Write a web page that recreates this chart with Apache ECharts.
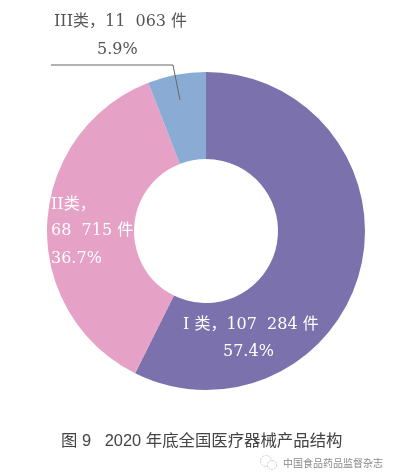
<!DOCTYPE html>
<html>
<head>
<meta charset="utf-8">
<style>html,body{margin:0;padding:0;background:#fff}#c{width:395px;height:472px}</style>
<script src="https://cdn.jsdelivr.net/npm/echarts@6/dist/echarts.min.js"></script>
</head>
<body>
<div id="c"></div>
<script>
const categories = ['I类', 'II类', 'III类'];
const values = [107284, 68715, 11063];
const colors = ['#7a71ad', '#e6a1c6', '#89abd4'];
const labelLines = [
  { text: 'I 类，107  284 件', x: 183, y: 325, fill: '#fff', align: 'left' },
  { text: '57.4%', x: 223, y: 352, fill: '#fff', align: 'left' },
  { text: 'II类，', x: 51, y: 205, fill: '#fff', align: 'left' },
  { text: '68  715 件', x: 51, y: 231, fill: '#fff', align: 'left' },
  { text: '36.7%', x: 51, y: 259, fill: '#fff', align: 'left' },
  { text: 'III类，11  063 件', x: 54, y: 22, fill: '#555', align: 'left' },
  { text: '5.9%', x: 97, y: 50, fill: '#555', align: 'left' }
];
const caption = '图 9   2020 年底全国医疗器械产品结构';
const watermark = '中国食品药品监督杂志';
const serif = '"DejaVu Serif","Noto Sans CJK SC",serif';

const chart = echarts.init(document.getElementById('c'), null, { renderer: 'canvas' });
chart.setOption({
  animation: false,
  backgroundColor: '#fff',
  series: [{
    type: 'pie',
    center: [206, 231],
    radius: [72, 159],
    startAngle: 90,
    clockwise: true,
    silent: true,
    label: { show: false },
    labelLine: { show: false },
    itemStyle: { borderWidth: 0 },
    data: categories.map((name, i) => ({ name, value: values[i], itemStyle: { color: colors[i] } }))
  }],
  graphic: [
    ...labelLines.map(l => ({
      type: 'text', z: 10, x: l.x, y: l.y,
      style: { text: l.text, fill: l.fill, align: l.align, verticalAlign: 'middle', font: '16px ' + serif }
    })),
    { type: 'polyline', z: 10, shape: { points: [[51, 65], [173, 65], [180, 100]] },
      style: { stroke: '#666', lineWidth: 1, fill: null } },
    { type: 'text', z: 10, x: 61, y: 441,
      style: { text: caption, fill: '#444', verticalAlign: 'middle', font: '16.4px "Liberation Sans","Noto Sans CJK SC",sans-serif' } },
    { type: 'circle', z: 10, shape: { cx: 266, cy: 461, r: 5.5 }, style: { stroke: '#ccc', lineWidth: 1, fill: '#fff', lineDash: [2, 1] } },
    { type: 'circle', z: 10, shape: { cx: 272, cy: 465, r: 4.5 }, style: { stroke: '#ccc', lineWidth: 1, fill: '#fff', lineDash: [2, 1] } },
    { type: 'text', z: 10, x: 283, y: 463,
      style: { text: watermark, fill: '#8a8a8a', verticalAlign: 'middle', font: '10px "Noto Sans CJK SC",sans-serif' } }
  ]
});
</script>
</body>
</html>
